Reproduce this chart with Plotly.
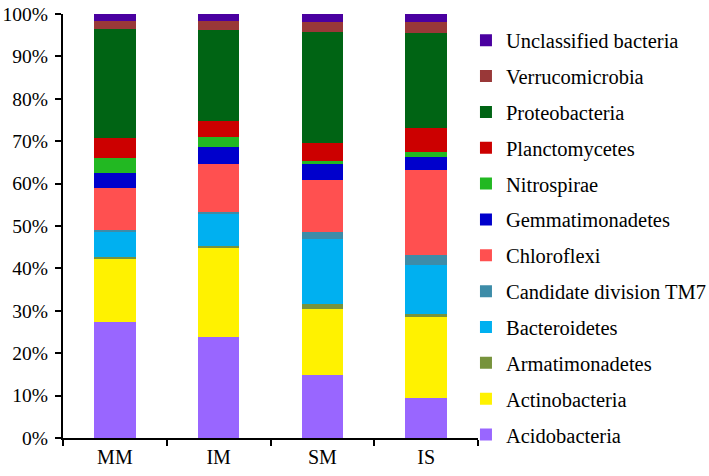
import plotly.graph_objects as go

categories = ["MM", "IM", "SM", "IS"]

acidobacteria = [27.3, 23.9, 14.9, 9.5]
actinobacteria = [15.1, 21.1, 15.5, 19.1]
armatimonadetes = [0.4, 0.3, 1.2, 0.6]
bacteroidetes = [6.0, 7.7, 15.3, 11.7]
tm7 = [0.3, 0.2, 1.8, 2.2]
chloroflexi = [10.0, 11.5, 12.1, 20.2]
gemmatimonadetes = [3.5, 3.9, 3.9, 3.0]
nitrospirae = [3.5, 2.4, 0.6, 1.1]
planctomycetes = [4.7, 3.8, 4.3, 5.6]
proteobacteria = [25.8, 21.4, 26.2, 22.6]
verrucomicrobia = [1.8, 2.1, 2.4, 2.4]
unclassified = [1.7, 1.7, 1.8, 2.0]

series_names = ["Acidobacteria", "Actinobacteria", "Armatimonadetes", "Bacteroidetes",
                "Candidate division TM7", "Chloroflexi", "Gemmatimonadetes", "Nitrospirae",
                "Planctomycetes", "Proteobacteria", "Verrucomicrobia", "Unclassified bacteria"]
series_values = [acidobacteria, actinobacteria, armatimonadetes, bacteroidetes, tm7,
                 chloroflexi, gemmatimonadetes, nitrospirae, planctomycetes,
                 proteobacteria, verrucomicrobia, unclassified]
colors = ["#9966FF", "#FFF200", "#77933C", "#00B0F0", "#3D8CA8", "#FF5050",
          "#0000CC", "#22B822", "#CC0000", "#006414", "#993838", "#4A00A0"]

y_ticks = [0, 10, 20, 30, 40, 50, 60, 70, 80, 90, 100]
y_ticklabels = [f"{v}%" for v in y_ticks]

FONT = "Liberation Serif, Times New Roman, serif"

fig = go.Figure()
n = len(series_names)
for i, (name, vals, col) in enumerate(zip(series_names, series_values, colors)):
    fig.add_trace(go.Bar(
        x=categories, y=vals, name=name, legendgroup=name,
        legendrank=n - i,
        marker=dict(color=col, line=dict(width=0)),
        width=0.4,
    ))

fig.update_layout(
    barmode="stack",
    barnorm="percent",
    width=709, height=476,
    margin=dict(l=63, r=231, t=14, b=38, autoexpand=False),
    paper_bgcolor="white",
    plot_bgcolor="white",
    font=dict(family=FONT, size=20, color="black"),
    showlegend=True,
    legend=dict(
        traceorder="grouped",
        tracegroupgap=6.2,
        x=0.971, xanchor="left",
        y=0.985, yanchor="top",
        maxheight=470,
        font=dict(family=FONT, size=20.5, color="black"),
        bgcolor="rgba(0,0,0,0)",
        itemclick=False,
    ),
    xaxis=dict(
        range=[-0.5, 3.5],
        showline=True, linecolor="black", linewidth=2,
        ticks="outside", tickson="boundaries", ticklen=6, tickwidth=2, tickcolor="black",
        showgrid=False,
        tickfont=dict(family=FONT, size=20, color="black"),
    ),
    yaxis=dict(
        range=[0, 100],
        tickvals=y_ticks, ticktext=y_ticklabels,
        showline=True, linecolor="black", linewidth=2,
        ticks="outside", ticklen=6, tickwidth=2, tickcolor="black",
        showgrid=False, zeroline=False,
        ticklabeloverflow="allow",
        ticklabelstandoff=3,
        tickfont=dict(family=FONT, size=19.5, color="black"),
    ),
)

fig.write_html("out.html", config={"displayModeBar": False},
               post_script="document.body.style.margin='0px';")
